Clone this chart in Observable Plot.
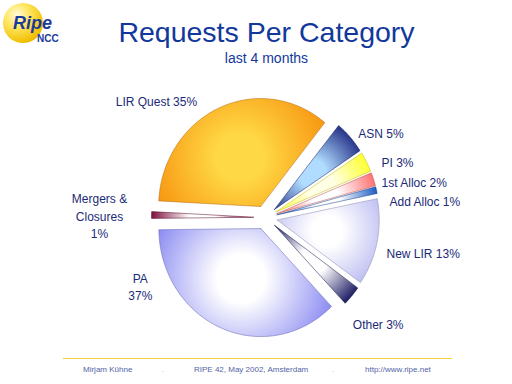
<!DOCTYPE html>
<html>
<head>
<meta charset="utf-8">
<script src="https://cdn.jsdelivr.net/npm/d3@7"></script>
<script src="https://cdn.jsdelivr.net/npm/@observablehq/plot@0.6"></script>
<style>
  html, body { margin: 0; padding: 0; background: #fff; }
  body { width: 512px; height: 384px; position: relative; overflow: hidden;
         font-family: "Liberation Sans", Arial, sans-serif; }
  .abs { position: absolute; white-space: nowrap; }
  #chart { position: absolute; left: 0; top: 68px; }
  .foot { position: absolute; top: 366px; font-size: 8px; line-height: 8px; color: #5264a6; }
  .dot { color: #f0a020; }
</style>
</head>
<body>
<div class="abs" style="left:3px;top:3px;width:40px;height:40px;border-radius:50%;
  background:radial-gradient(circle at 35% 30%, #fffbe0 0%, #ffe866 30%, #f2c20a 70%, #d49e00 100%);"></div>
<div class="abs" style="left:13px;top:14.75px;font:italic bold 18px/16px 'Liberation Sans',Arial,sans-serif;color:#1a3a9c;">Ripe</div>
<div class="abs" style="left:37px;top:34.5px;font:bold 10px/8px 'Liberation Sans',Arial,sans-serif;color:#1a3a9c;">NCC</div>
<div class="abs" style="left:0;top:18px;width:533px;text-align:center;font-size:28.5px;line-height:29px;color:#12389c;">Requests Per Category</div>
<div class="abs" style="left:0;top:51px;width:533px;text-align:center;font-size:14px;line-height:14px;color:#12389c;">last 4 months</div>
<div id="chart"></div>
<div class="abs" style="left:63px;top:358px;width:389px;height:0;border-top:1.2px solid #f2cf3a;"></div>
<div class="foot" style="left:83px;">Mirjam Kühne</div>
<div class="foot dot" style="left:162px;">.</div>
<div class="foot" style="left:194px;">RIPE 42, May 2002, Amsterdam</div>
<div class="foot dot" style="left:332px;">.</div>
<div class="foot" style="left:365px;">http://www.ripe.net</div>
<script>
// ---- data ----
const categories = ["ASN", "PI", "1st Alloc", "Add Alloc", "New LIR", "Other", "PA", "Mergers & Closures", "LIR Quest"];
const shares = [5, 3, 2, 1, 13, 3, 37, 1, 35];
const labels = ["ASN 5%", "PI 3%", "1st Alloc 2%", "Add Alloc 1%", "New LIR 13%", "Other 3%", "PA\n37%", "Mergers &\nClosures\n1%", "LIR Quest 35%"];

// ---- styles ----
const lightColors = ["#b0dcff", "#ffffe6", "#ffffff", "#ffffff", "#ffffff", "#ffffff", "#ffffff", "#ffffff", "#ffd845"];
const edgeColors  = ["#1e2a82", "#ffff2a", "#ff6e6e", "#1858c0", "#bcbcf2", "#14145e", "#8888f2", "#7a0a38", "#f7940f"];
const labelAnchor = ["start", "start", "start", "start", "start", "start", "middle", "middle", "end"];
const labelNudge = [[8, -5], [15, 0], [8, 2], [13, 10], [9.5, 10], [1, 28], [-81, -42], [-52, 0], [-22, -7]];

// ---- geometry ----
const W = 512, H = 282, CX = 265, CY = 149, RX = 102, RY = 108, EXPLODE = 12;
const START = 39 * Math.PI / 180;
const arcs = d3.pie().sort(null).value(d => d).startAngle(START).endAngle(START + 2 * Math.PI)(shares);

const slices = arcs.map((a, i) => {
  const mid = (a.startAngle + a.endAngle) / 2;
  const ox = EXPLODE * Math.sin(mid) / RX, oy = EXPLODE * Math.cos(mid) / RY;
  const pts = [{u: ox, v: oy}];
  const n = Math.max(2, Math.ceil((a.endAngle - a.startAngle) / (Math.PI / 180)));
  for (let k = 0; k <= n; k++) {
    const t = a.startAngle + (a.endAngle - a.startAngle) * k / n;
    pts.push({u: ox + Math.sin(t), v: oy + Math.cos(t)});
  }
  pts.push({u: ox, v: oy});
  return {i, mid, ox, oy, pts};
});

const marks = [];
slices.forEach(s => {
  marks.push(Plot.line(s.pts, {
    x: "u", y: "v", curve: "linear",
    fill: `url(#grad${s.i})`,
    stroke: d3.color(edgeColors[s.i]).darker(0.9).formatHex(),
    strokeWidth: 0.6, strokeOpacity: 0.85
  }));
});
slices.forEach(s => {
  const lab = [{
    u: Math.sin(s.mid) * (RX + EXPLODE) / RX,
    v: Math.cos(s.mid) * (RY + EXPLODE) / RY,
    text: labels[s.i]
  }];
  marks.push(Plot.text(lab, {
    x: "u", y: "v", text: "text",
    textAnchor: labelAnchor[s.i], lineAnchor: "middle", lineHeight: 1.45,
    dx: labelNudge[s.i][0], dy: labelNudge[s.i][1],
    fill: "#1b2a78", fontSize: 12
  }));
});

const svg = Plot.plot({
  width: W, height: H, margin: 0,
  x: {domain: [-CX / RX, (W - CX) / RX], axis: null},
  y: {domain: [(CY - H) / RY, CY / RY], axis: null},
  style: {fontFamily: "'Liberation Sans', Arial, sans-serif", fontSize: "12px", background: "transparent", overflow: "visible"},
  marks
});

// gradients (styling only)
const ns = "http://www.w3.org/2000/svg";
const defs = document.createElementNS(ns, "defs");
slices.forEach(s => {
  const apx = CX + EXPLODE * Math.sin(s.mid), apy = CY - EXPLODE * Math.cos(s.mid);
  const gx = apx + 0.5 * RX * Math.sin(s.mid), gy = apy - 0.5 * RY * Math.cos(s.mid);
  let r = 0;
  s.pts.forEach(p => {
    const px = CX + p.u * RX, py = CY - p.v * RY;
    r = Math.max(r, Math.hypot(px - gx, py - gy));
  });
  const g = document.createElementNS(ns, "radialGradient");
  g.setAttribute("id", "grad" + s.i);
  g.setAttribute("gradientUnits", "userSpaceOnUse");
  g.setAttribute("cx", gx); g.setAttribute("cy", gy); g.setAttribute("r", r * 1.02);
  const stops = [[0, lightColors[s.i]], [0.25, lightColors[s.i]], [1, edgeColors[s.i]]];
  stops.forEach(([o, c]) => {
    const st = document.createElementNS(ns, "stop");
    st.setAttribute("offset", o); st.setAttribute("stop-color", c);
    g.appendChild(st);
  });
  defs.appendChild(g);
});
svg.insertBefore(defs, svg.firstChild);
document.getElementById("chart").appendChild(svg);
</script>
</body>
</html>
